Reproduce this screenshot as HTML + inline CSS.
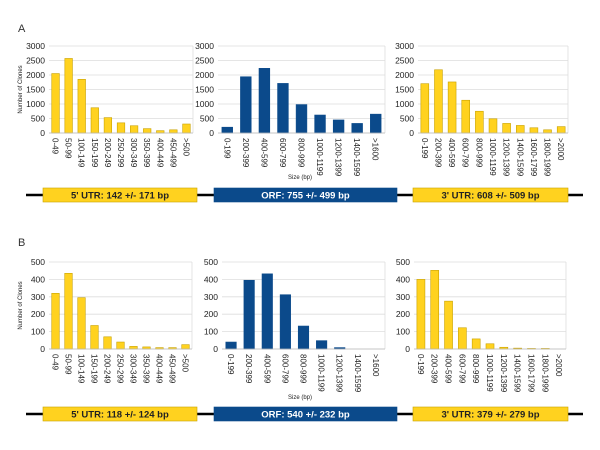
<!DOCTYPE html>
<html><head><meta charset="utf-8">
<style>
html,body{margin:0;padding:0;background:#fff;}
svg{display:block;font-family:"Liberation Sans",sans-serif;}
</style></head>
<body>
<svg id="fig" width="600" height="450" viewBox="0 0 600 450"></svg>
<script>
const utrCats5 = ["0-49","50-99","100-149","150-199","200-249","250-299","300-349","350-399","400-449","450-499",">500"];
const orfCats = ["0-199","200-399","400-599","600-799","800-999","1000-1199","1200-1399","1400-1599",">1600"];
const utrCats3 = ["0-199","200-399","400-599","600-799","800-999","1000-1199","1200-1399","1400-1599","1600-1799","1800-1999",">2000"];
const a5Values = [2050,2570,1850,870,530,350,250,150,80,110,310];
const aOrfValues = [200,1940,2230,1710,980,620,450,330,650];
const a3Values = [1700,2180,1760,1130,750,490,330,260,180,110,220];
const b5Values = [320,435,295,135,70,40,15,12,8,8,25];
const bOrfValues = [40,395,432,312,132,48,8,0,0];
const b3Values = [400,452,275,122,58,30,10,5,3,3,0];
const aTicks = [0,500,1000,1500,2000,2500,3000];
const bTicks = [0,100,200,300,400,500];

const NS="http://www.w3.org/2000/svg";
const svg=document.getElementById('fig');
function mk(tag,attrs,parent,txt){const e=document.createElementNS(NS,tag);for(const k in attrs)e.setAttribute(k,attrs[k]);if(txt!==undefined)e.textContent=txt;(parent||svg).appendChild(e);return e;}

function chart(name,cats,vals,ticks,x0,x1,y0,y1,color,stroke){
  const g=mk('g',{});
  
  
  const max=ticks[ticks.length-1];
  const ys=v=>y1-(v/max)*(y1-y0);
  const band=(x1-x0)/cats.length;
  ticks.forEach(t=>{
    const l=mk('line',{x1:x0,x2:x1,y1:ys(t),y2:ys(t),stroke:'#ddd','stroke-width':0.8},g);
    
    
    const tx=mk('text',{x:x0-4,y:ys(t)+3,'font-size':8.5,'text-anchor':'end',fill:'#222'},g,String(t));
    
    
  });
  mk('line',{x1:x1,x2:x1,y1:y0,y2:y1,stroke:'#ddd','stroke-width':0.8},g);
  cats.forEach((c,i)=>{
    const cx=x0+band*(i+0.5);
    const bw=band*0.58;
    const v=vals[i];
    if(v>0){
      const r=mk('rect',{x:cx-bw/2,y:ys(v),width:bw,height:y1-ys(v),fill:color,stroke:stroke,'stroke-width':0.6},g);
      
      
    }
    const t=mk('text',{x:0,y:0,'font-size':8,fill:'#222',transform:`translate(${cx-3},${y1+5}) rotate(90)`},g,c);
    
    
  });
  mk('line',{x1:x0,x2:x1,y1:y1,y2:y1,stroke:'#bbb','stroke-width':0.8},g);
}
const Y='#FFD21F', YS='#c9a200', B='#0B4A8B', BS='#0B4A8B';

function panel(label,ly,y0,y1,sizeY,geneY,d5,dO,d3,ticks,txt,xs){
  const p=mk('text',{x:18,y:ly,'font-size':11,fill:'#333'},svg,label);
  
  
  const yt=mk('text',{x:0,y:0,'font-size':6,fill:'#222','text-anchor':'middle',transform:`translate(22,${(y0+y1)/2}) rotate(-90)`},svg,'Number of Clones');
  
  
  chart('utr5-chart-'+label,utrCats5,d5,ticks,xs[0],xs[1],y0,y1,Y,YS);
  chart('orf-chart-'+label,orfCats,dO,ticks,xs[2],xs[3],y0,y1,B,BS);
  chart('utr3-chart-'+label,utrCats3,d3,ticks,xs[4],xs[5],y0,y1,Y,YS);
  const s=mk('text',{x:300,y:sizeY,'font-size':6,fill:'#222','text-anchor':'middle'},svg,'Size (bp)');
  
  
  const ln=mk('line',{x1:26,x2:583,y1:geneY,y2:geneY,stroke:'#000','stroke-width':2.5});
  
  
  const boxes=[[43,197,Y,'#222',txt[0],'utr5-box'],[214,397,B,'#fff',txt[1],'orf-box'],[413,568,Y,'#222',txt[2],'utr3-box']];
  boxes.forEach(b=>{
    const r=mk('rect',{x:b[0],y:geneY-7,width:b[1]-b[0],height:14,fill:b[2],stroke:b[2]==Y?YS:B,'stroke-width':0.6});
    
    
    const t=mk('text',{x:(b[0]+b[1])/2,y:geneY+3.5,'font-size':9.5,'font-weight':'bold',fill:b[3],'text-anchor':'middle'},svg,b[4]);
    
    
  });
}
panel('A',32,46,133,179,195,a5Values,aOrfValues,a3Values,aTicks,
  ["5' UTR: 142 +/- 171 bp","ORF: 755 +/- 499 bp","3' UTR: 608 +/- 509 bp"],[49,193,218,385,418,568]);
panel('B',246,262,349,399,414,b5Values,bOrfValues,b3Values,bTicks,
  ["5' UTR: 118 +/- 124 bp","ORF: 540 +/- 232 bp","3' UTR: 379 +/- 279 bp"],[49,192,222,385,414,566]);
</script>
</body></html>
